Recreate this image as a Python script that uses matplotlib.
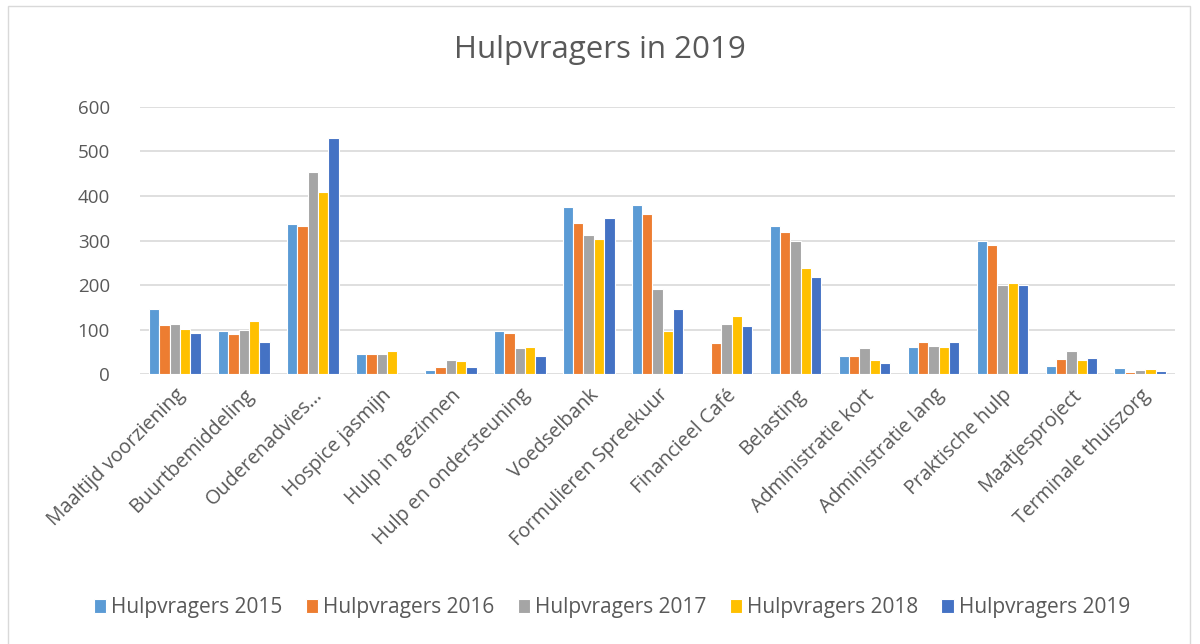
import matplotlib.pyplot as plt
import numpy as np
from matplotlib.patches import Rectangle

categories = [
    "Maaltijd voorziening", "Buurtbemiddeling", "Ouderenadvies…", "Hospice jasmijn",
    "Hulp in gezinnen", "Hulp en ondersteuning", "Voedselbank", "Formulieren Spreekuur",
    "Financieel Café", "Belasting", "Administratie kort", "Administratie lang",
    "Praktische hulp", "Maatjesproject", "Terminale thuiszorg",
]
series_names = ["Hulpvragers 2015", "Hulpvragers 2016", "Hulpvragers 2017",
                "Hulpvragers 2018", "Hulpvragers 2019"]
v2015 = [146, 97, 337, 45, 9, 97, 376, 379, 0, 332, 40, 60, 299, 18, 13]
v2016 = [111, 90, 332, 45, 16, 93, 339, 360, 69, 320, 40, 72, 291, 34, 5]
v2017 = [112, 100, 453, 45, 31, 58, 312, 192, 113, 300, 58, 64, 200, 52, 9]
v2018 = [102, 120, 408, 52, 30, 61, 304, 97, 131, 238, 31, 61, 204, 31, 11]
v2019 = [93, 73, 531, 0, 16, 40, 350, 146, 108, 218, 24, 72, 200, 36, 7]
colors = ["#5B9BD5", "#ED7D31", "#A5A5A5", "#FFC000", "#4472C4"]

TEXT = "#595959"
plt.rcParams["font.family"] = ["Open Sans", "DejaVu Sans"]

fig = plt.figure(figsize=(12, 6.44), dpi=100)
ax = fig.add_axes([0.117, 0.419, 0.862, 0.415])

x = np.arange(len(categories))
width = 0.15
for i, (name, vals, c) in enumerate(zip(series_names, [v2015, v2016, v2017, v2018, v2019], colors)):
    ax.bar(x + (i - 2) * width, vals, width, color=c, edgecolor="white", linewidth=0.8,
           label=name, zorder=3)

ax.set_xlim(-0.5, len(categories) - 0.5)
ax.set_ylim(0, 600)
ax.set_yticks(range(0, 601, 100))
ax.yaxis.grid(True, color="#D9D9D9", linewidth=1.2, zorder=0)
for s in ax.spines.values():
    s.set_visible(False)
ax.tick_params(axis="y", length=0, colors=TEXT, labelsize=13.5, pad=22)
ax.tick_params(axis="x", length=0, colors=TEXT, labelsize=14.2, pad=8)
ax.set_xticks(x)
ax.set_xticklabels(categories, rotation=45, ha="right", rotation_mode="anchor")

fig.text(0.5, 0.922, "Hulpvragers in 2019", ha="center", va="center", fontsize=22.5, color=TEXT)

fig.legend(loc="center", bbox_to_anchor=(0.51, 0.056), ncol=5, frameon=False,
           fontsize=15, labelcolor=TEXT, handlelength=0.6, handleheight=0.6,
           handletextpad=0.25, columnspacing=1.1)

fig.patches.append(Rectangle((0.007, -0.01), 0.985, 1.0, transform=fig.transFigure,
                             fill=False, edgecolor="#D9D9D9", linewidth=1))

fig.savefig("out.png", dpi=100)
